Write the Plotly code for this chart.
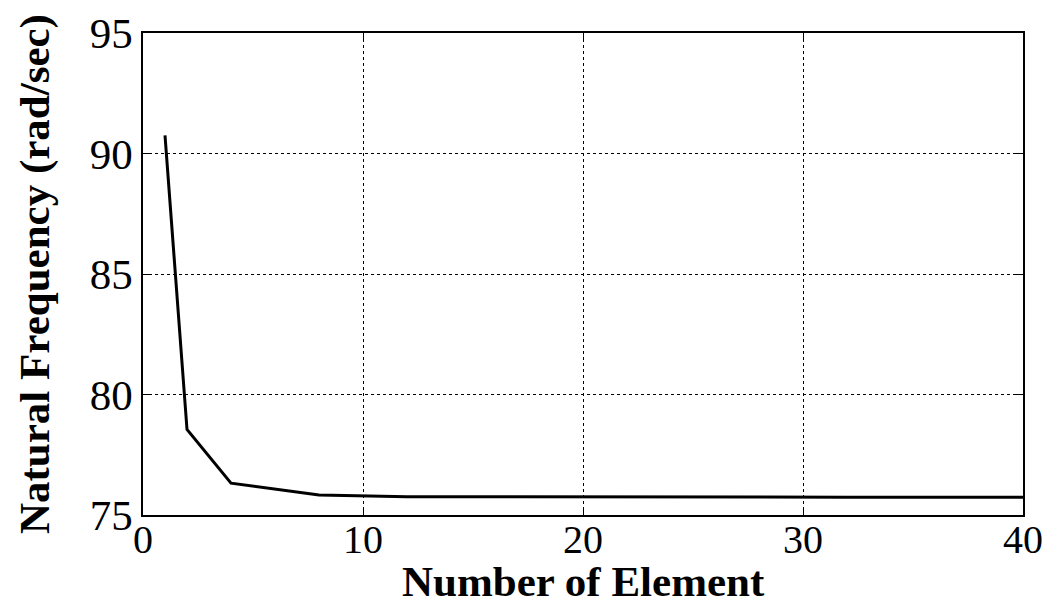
import plotly.graph_objects as go

elements = [1, 2, 4, 8, 12, 16, 20, 24, 28, 32, 36, 40]
frequency = [90.75, 78.55, 76.32, 75.83, 75.76, 75.75, 75.75, 75.74, 75.74, 75.74, 75.74, 75.74]

x_ticks = [0, 10, 20, 30, 40]
y_ticks = [75, 80, 85, 90, 95]

x_title = "<b>Number of Element</b>"
y_title = "<b>Natural Frequency (rad/sec)</b>"

fig = go.Figure()
fig.add_trace(go.Scatter(x=elements, y=frequency, mode="lines",
                         line=dict(color="black", width=3), showlegend=False))

axis_common = dict(showline=True, linecolor="black", linewidth=1.5, mirror="allticks",
                   ticks="inside", ticklen=8, tickcolor="black", tickwidth=1,
                   showgrid=True, gridcolor="black", gridwidth=1, griddash="3px,3px",
                   zeroline=False, automargin=False)

fig.update_xaxes(range=[0, 40], tickvals=x_ticks, ticklabelstandoff=-12,
                 tickfont=dict(family="Liberation Serif", size=40, color="black"),
                 **axis_common)
fig.update_yaxes(range=[75, 95], tickvals=y_ticks,
                 tickfont=dict(family="Liberation Serif", size=43, color="black"),
                 **axis_common)

fig.add_annotation(text=x_title, xref="paper", yref="paper", x=0.5, y=0,
                   xanchor="center", yanchor="bottom", yshift=-92, showarrow=False,
                   font=dict(family="Liberation Serif", size=43, color="black"))
fig.add_annotation(text=y_title, xref="paper", yref="paper", x=0, y=0.5,
                   xanchor="center", yanchor="middle", xshift=-108, textangle=-90,
                   showarrow=False,
                   font=dict(family="Liberation Serif", size=43, color="black"))

fig.update_layout(width=1055, height=604, margin=dict(l=143, r=32, t=33, b=89),
                  paper_bgcolor="white", plot_bgcolor="white")

fig.write_html("out.html")
